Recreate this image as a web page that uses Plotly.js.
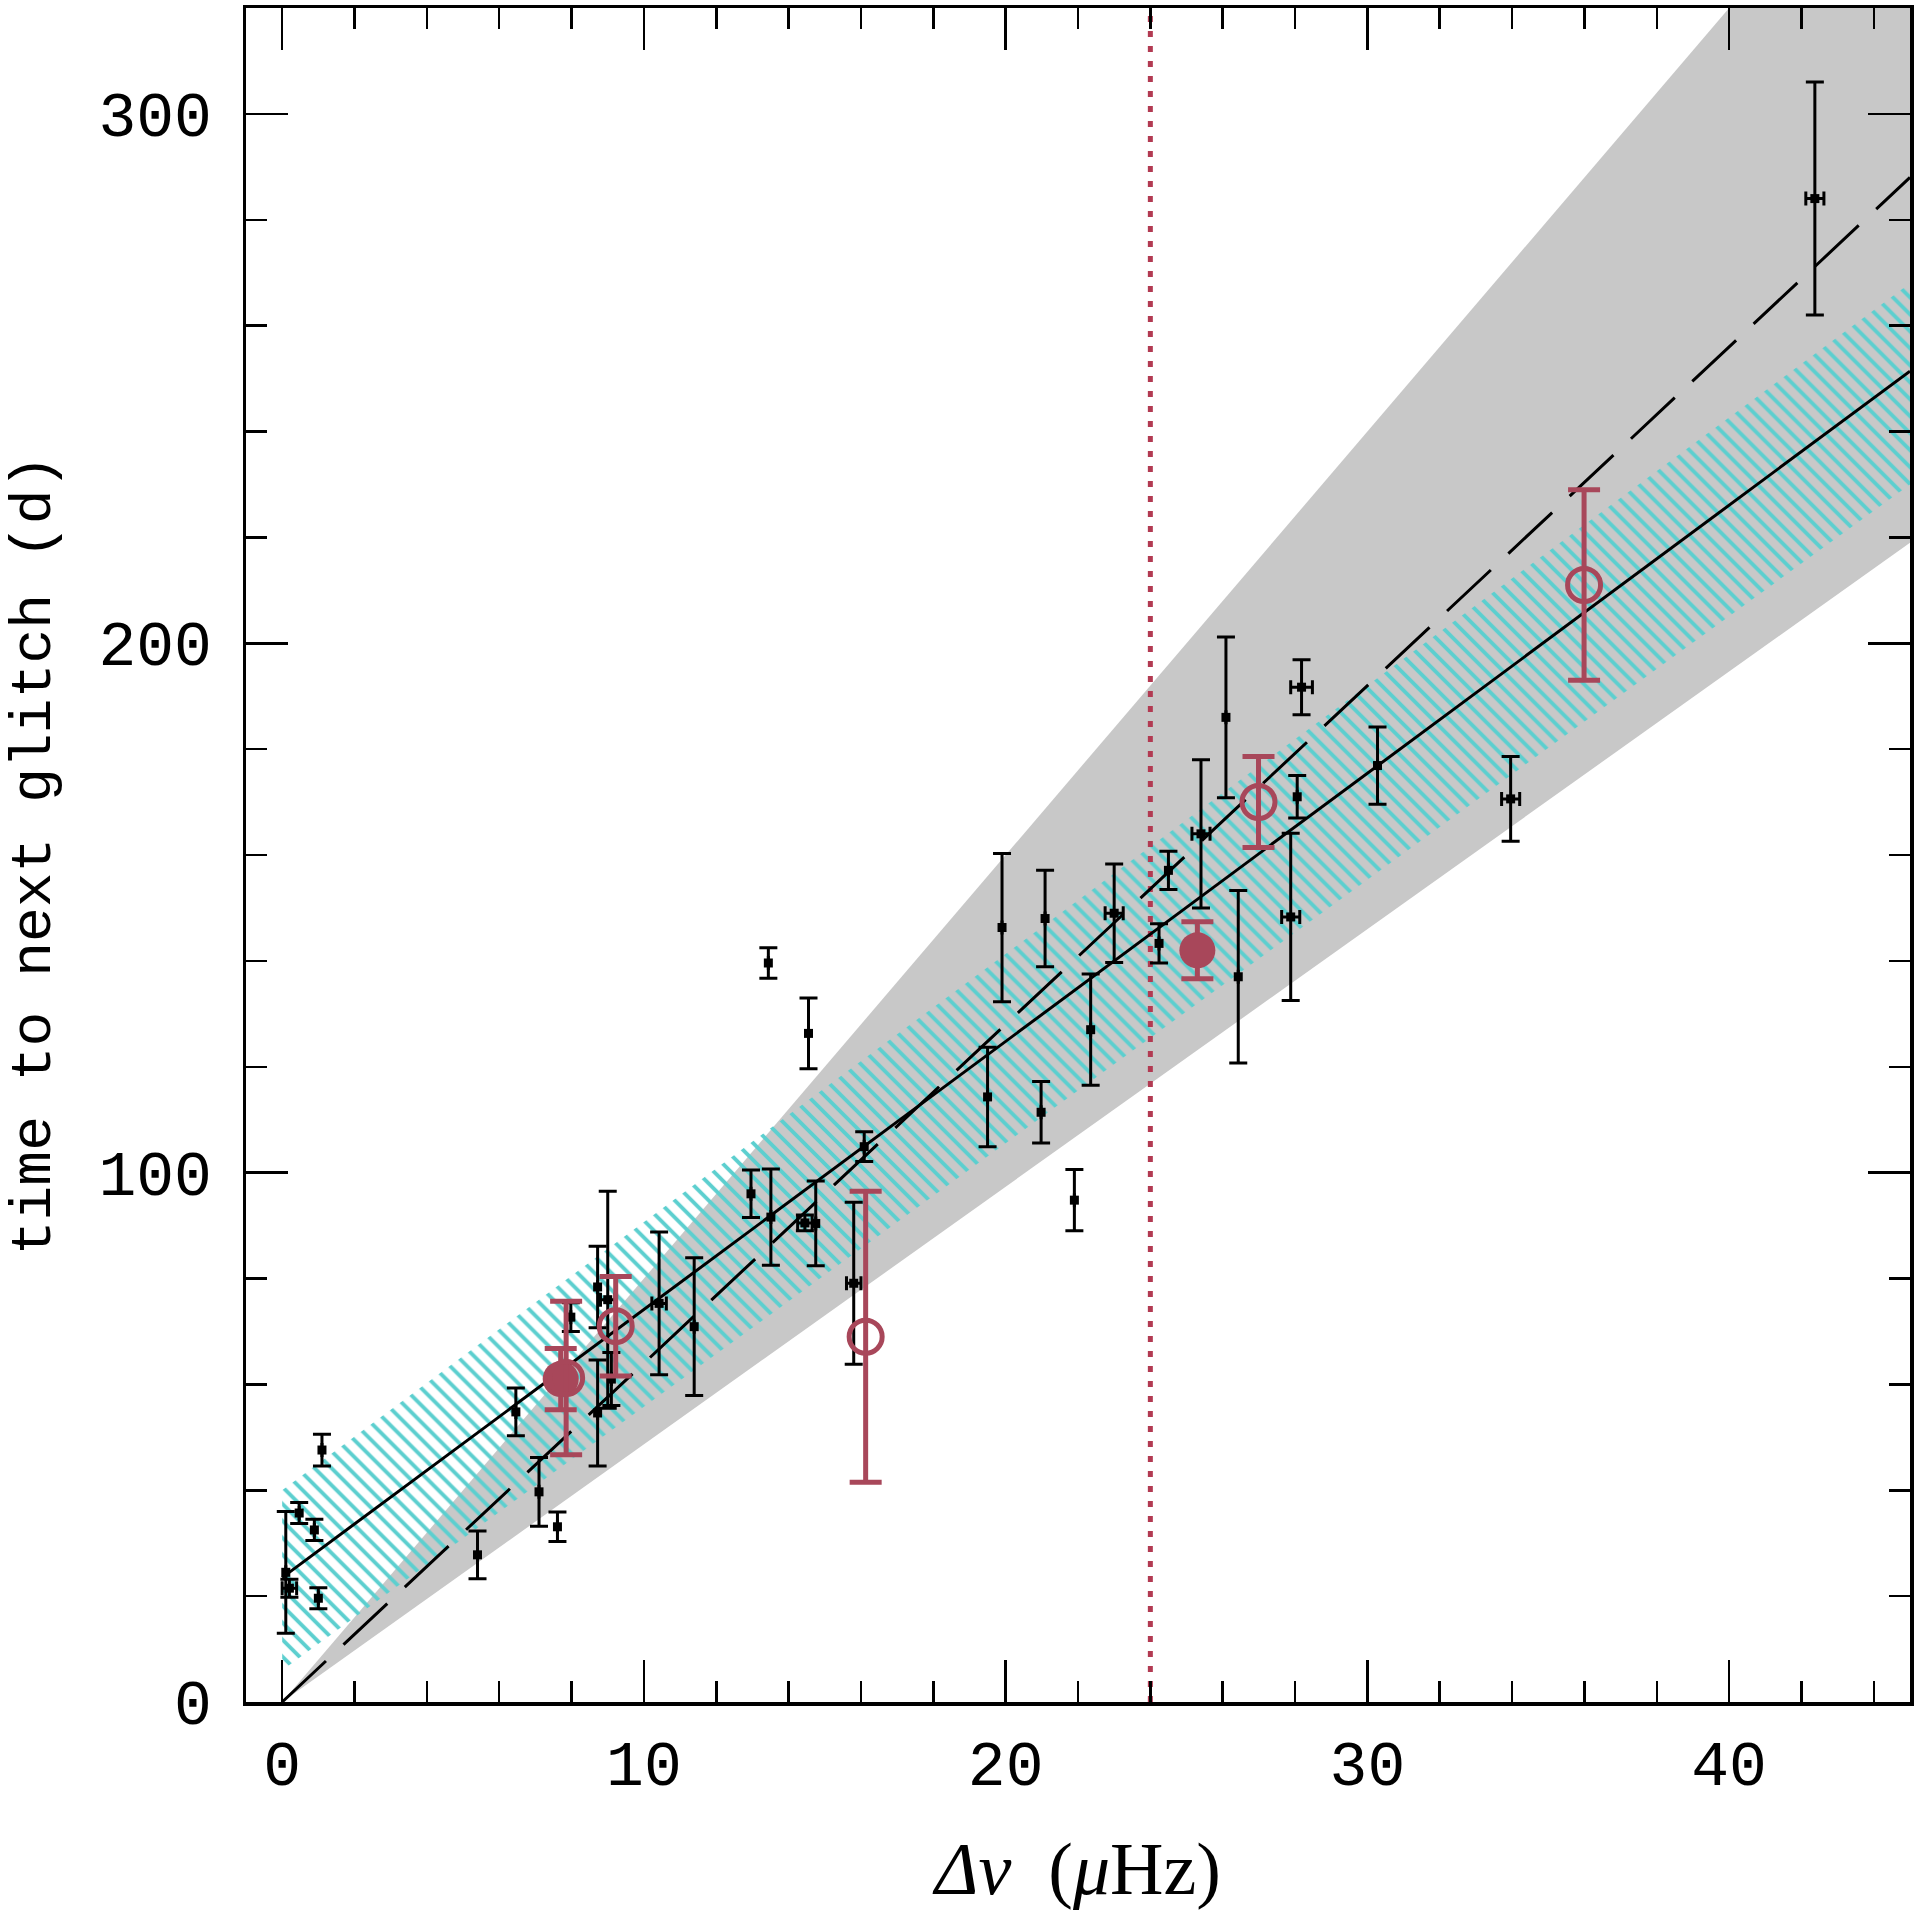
<!DOCTYPE html>
<html><head><meta charset="utf-8">
<script src="https://cdn.plot.ly/plotly-3.0.1.min.js"></script>
<style>html,body{margin:0;padding:0;background:#fff}#plot{width:1920px;height:1910px}</style>
</head><body><div id="plot"></div>
<script>
// ---- fit lines / bands (values at x = 0 and x = 45) ----
const bandX = [0, 45];
const grayUpper = [0, 360];
const grayLower = [0, 219];
const hatchUpper = [40, 268];
const hatchLower = [6, 230];
const fitSolid = [23.5, 251.4];
const fitDashed = [0, 288];
const limitX = 24;            // vertical dotted line
const yRange = [0, 320];

// ---- black data points ----
const blackX   = [0.1, 0.2, 0.47, 0.89, 1.1, 1.0, 5.4, 6.46, 7.1, 7.61, 7.98, 8.72, 8.72, 9.0, 9.1, 10.42, 11.39, 12.96, 13.51, 13.44, 14.55, 14.45, 14.75, 15.8, 16.09, 19.5, 19.9, 20.98, 21.09, 21.9, 22.35, 23.0, 24.24, 24.5, 25.4, 26.09, 26.43, 27.88, 28.06, 28.18, 30.28, 33.96, 42.37];
const blackY   = [24.5, 21.5, 35.7, 32.5, 47.6, 19.6, 27.8, 54.8, 39.7, 33.1, 72.7, 54.6, 78.4, 76, 61, 75.3, 70.9, 96, 91.6, 139.6, 126.3, 90.5, 90.4, 79.1, 104.9, 114.3, 146.3, 111.4, 148, 94.8, 127, 149, 143.3, 157.1, 164, 186, 137, 148.3, 171, 191.7, 176.9, 170.6, 284];
const blackErrY = [11.5, 1.7, 2, 2, 3, 2, 4.5, 4.5, 6.5, 2.8, 2.7, 10, 7.7, 20.5, 5, 13.5, 13, 4.5, 9.1, 2.9, 6.7, 1.5, 8, 15.3, 2.8, 9.4, 14, 5.8, 9.1, 5.8, 10.5, 9.3, 3.7, 3.6, 14, 15.2, 16.3, 15.8, 4, 5.2, 7.3, 8, 22];
const blackErrX = [0, 0.2, 0, 0, 0, 0, 0, 0, 0, 0, 0, 0, 0, 0.2, 0, 0.2, 0, 0, 0, 0, 0, 0.2, 0, 0.2, 0, 0, 0, 0, 0, 0, 0, 0.25, 0, 0, 0.25, 0, 0, 0.25, 0, 0.3, 0, 0.25, 0.25];

// ---- red points ----
const redOpenX = [7.85, 9.22, 16.13, 26.99, 35.99];
const redOpenY = [61.2, 71, 69, 170, 211];
const redOpenErr = [14.5, 9.4, 27.5, 8.6, 18];
const redFillX = [7.7, 25.3];
const redFillY = [61, 142];
const redFillErr = [5.8, 5.4];

const RED = '#a8475a';
const BLACK = '#000000';

function poly(xs, top, bot) {
  return { x: xs.concat(xs.slice().reverse()), y: top.concat(bot.slice().reverse()) };
}
const gp = poly(bandX, grayUpper, grayLower);
const hp = poly(bandX, hatchUpper, hatchLower);

const traces = [
  { x: gp.x, y: gp.y, type: 'scatter', mode: 'lines', fill: 'toself',
    fillcolor: '#c8c8c8', line: { width: 0 }, hoverinfo: 'skip', showlegend: false },
  { x: hp.x, y: hp.y, type: 'scatter', mode: 'lines', fill: 'toself',
    fillcolor: 'rgba(0,0,0,0)', line: { width: 0 },
    fillpattern: { shape: '\\', fgcolor: '#5ccfcf', bgcolor: 'rgba(0,0,0,0)', size: 12, solidity: 0.32 },
    hoverinfo: 'skip', showlegend: false },
  { x: [limitX, limitX], y: yRange, type: 'scatter', mode: 'lines',
    line: { color: '#b23a52', width: 5, dash: '6px,9px' }, hoverinfo: 'skip', showlegend: false },
  { x: bandX, y: fitDashed, type: 'scatter', mode: 'lines',
    line: { color: BLACK, width: 3, dash: '60px,24px' }, hoverinfo: 'skip', showlegend: false },
  { x: bandX, y: fitSolid, type: 'scatter', mode: 'lines',
    line: { color: BLACK, width: 3 }, hoverinfo: 'skip', showlegend: false },
  { x: blackX, y: blackY, type: 'scatter', mode: 'markers',
    marker: { symbol: 'square', size: 9, color: BLACK },
    error_y: { type: 'data', array: blackErrY, visible: true, color: BLACK, thickness: 3, width: 9 },
    error_x: { type: 'data', array: blackErrX, visible: true, color: BLACK, thickness: 3, width: 7 },
    showlegend: false },
  { x: redFillX, y: redFillY, type: 'scatter', mode: 'markers',
    marker: { symbol: 'circle', size: 36, color: RED },
    error_y: { type: 'data', array: redFillErr, visible: true, color: RED, thickness: 5, width: 16 },
    showlegend: false },
  { x: redOpenX, y: redOpenY, type: 'scatter', mode: 'markers',
    marker: { symbol: 'circle-open', size: 33, color: RED, line: { color: RED, width: 5 } },
    error_y: { type: 'data', array: redOpenErr, visible: true, color: RED, thickness: 5, width: 16 },
    showlegend: false }
];

const tickFont = { family: 'Liberation Mono, monospace', size: 63, color: '#000' };
const axisCommon = {
  showgrid: false, zeroline: false, showline: true, linewidth: 3.5, linecolor: '#000',
  mirror: 'ticks', ticks: 'inside', ticklen: 42, tickwidth: 2.5, tickcolor: '#000',
  tickfont: tickFont, automargin: false
};

const layout = {
  width: 1920, height: 1910,
  margin: { l: 246, r: 10, t: 8, b: 208, pad: 0 },
  paper_bgcolor: '#fff', plot_bgcolor: '#fff',
  showlegend: false,
  xaxis: Object.assign({}, axisCommon, {
    range: [-1, 45], tick0: 0, dtick: 10,
    minor: { dtick: 2, ticks: 'inside', ticklen: 21, tickwidth: 2.5, tickcolor: '#000', showgrid: false },
    ticklabelstandoff: 4,
    title: { text: '<i>Δν</i>  (<i>μ</i>Hz)', font: { family: 'Liberation Serif, serif', size: 74, color: '#000' }, standoff: 60 }
  }),
  yaxis: Object.assign({}, axisCommon, {
    range: yRange, tick0: 0, dtick: 100,
    minor: { dtick: 20, ticks: 'inside', ticklen: 21, tickwidth: 2.5, tickcolor: '#000', showgrid: false },
    ticklabelstandoff: 18,
    title: { text: 'time to next glitch (d)', font: { family: 'Liberation Mono, monospace', size: 58, color: '#000' }, standoff: 30 }
  })
};

Plotly.newPlot('plot', traces, layout, { staticPlot: true });
</script></body></html>
